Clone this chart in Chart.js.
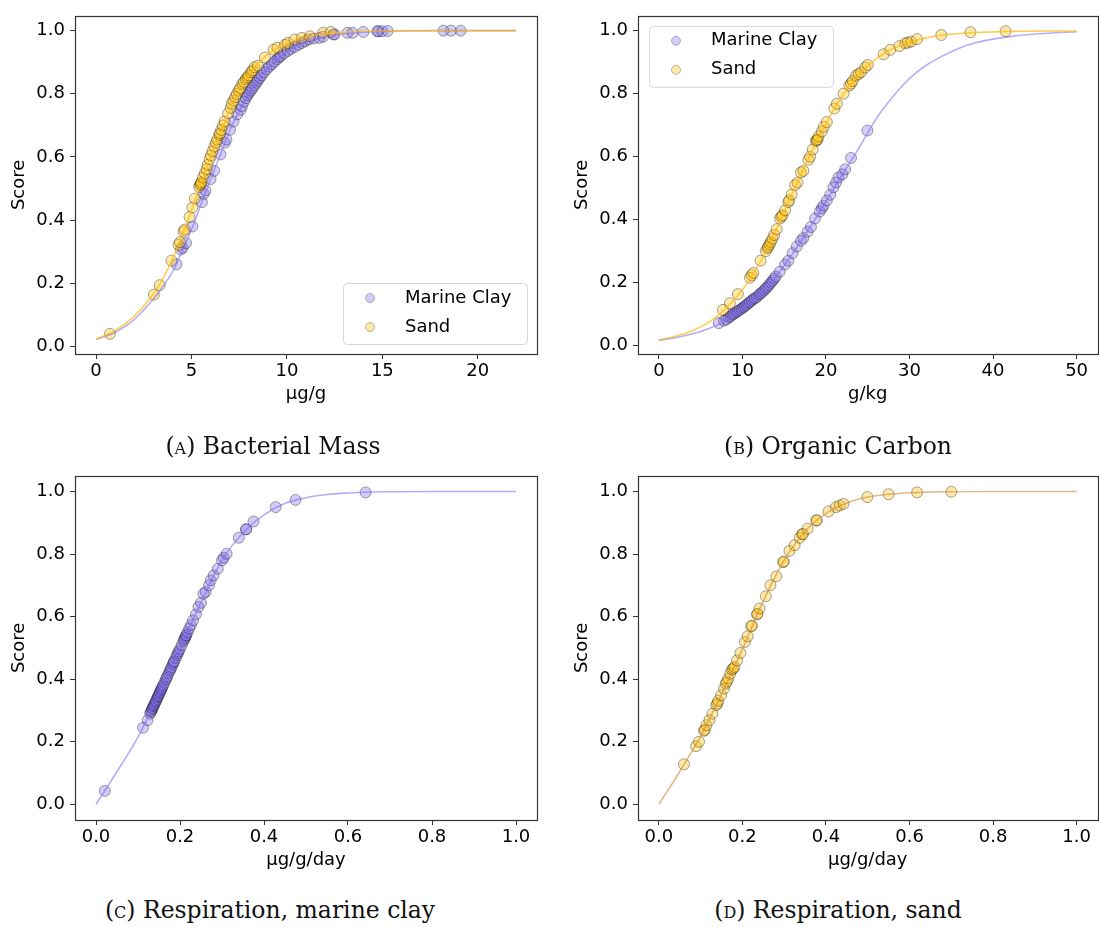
<!DOCTYPE html>
<html>
<head>
<meta charset="utf-8">
<script src="https://cdn.jsdelivr.net/npm/chart.js@4.4.1/dist/chart.umd.min.js"></script>
<style>
  html, body { margin: 0; padding: 0; background: #fff; overflow: hidden; }
  body { width: 1099px; height: 927px; position: relative; }
  .panel { position: absolute; }
  .cap {
    position: absolute; width: 600px; text-align: center;
    font-family: 'DejaVu Serif', serif; font-size: 23.5px; line-height: 30px;
    color: #111; white-space: nowrap;
  }
  .sc { font-variant: small-caps; }
</style>
</head>
<body>
<div class="panel" style="left:0;top:0"><canvas id="chartMass" width="550" height="420"></canvas></div>
<div class="panel" style="left:550px;top:0"><canvas id="chartCarbon" width="554" height="420"></canvas></div>
<div class="panel" style="left:0;top:460px"><canvas id="chartRespClay" width="550" height="420"></canvas></div>
<div class="panel" style="left:550px;top:460px"><canvas id="chartRespSand" width="554" height="420"></canvas></div>

<div class="cap" style="left:-27px;top:431px">(<span class="sc">a</span>) Bacterial Mass</div>
<div class="cap" style="left:538px;top:431px">(<span class="sc">b</span>) Organic Carbon</div>
<div class="cap" style="left:-30px;top:895px">(<span class="sc">c</span>) Respiration, marine clay</div>
<div class="cap" style="left:538px;top:895px">(<span class="sc">d</span>) Respiration, sand</div>

<script>
// ── colours ──
const CLAY = 'rgba(123,104,238,0.33)';
const SAND = 'rgba(255,193,7,0.35)';
const EDGE = 'rgba(0,0,0,0.35)';
const CLAY_LINE = 'rgba(123,104,238,0.55)';
const SAND_LINE = 'rgba(255,185,10,0.7)';
const TAN_LINE = 'rgba(205,140,60,0.6)';
const FONT = "'DejaVu Sans', sans-serif";
const FS = 18;

// ── (A) bacterial mass, µg/g ──
const massClay = [[4.22,0.26],[4.44,0.307],[4.54,0.312],[4.72,0.327],[5.05,0.38],[5.55,0.457],[5.64,0.483],[5.73,0.494],
  [6.0,0.53],[6.19,0.556],[6.52,0.608],[6.74,0.645],[6.83,0.655],[7.02,0.686],[7.2,0.712],[7.4,0.735],[7.57,0.749],
  [7.65,0.76],[7.75,0.775],[7.85,0.786],[7.93,0.795],[8.02,0.803],[8.12,0.81],[8.2,0.818],[8.3,0.826],[8.4,0.835],
  [8.48,0.842],[8.58,0.85],[8.67,0.858],[8.8,0.868],[8.94,0.878],[9.08,0.886],[9.22,0.894],[9.35,0.902],[9.5,0.91],
  [9.6,0.916],[9.68,0.92],[9.85,0.928],[10.05,0.936],[10.2,0.942],[10.4,0.948],[10.6,0.955],[10.78,0.961],[10.95,0.966],
  [11.15,0.972],[11.4,0.975],[11.7,0.977],[11.9,0.981],[12.43,0.988],[12.5,0.988],[13.17,0.993],[13.44,0.993],
  [14.0,0.996],[14.73,0.998],[14.8,0.998],[15.0,0.998],[15.28,0.999],[18.2,1.0],[18.6,1.0],[19.1,1.0]];
const massSand = [[0.73,0.04],[3.03,0.164],[3.34,0.194],[3.95,0.272],[4.32,0.322],[4.4,0.33],[4.59,0.364],[4.65,0.37],
  [4.9,0.41],[5.05,0.44],[5.18,0.468],[5.4,0.505],[5.45,0.512],[5.49,0.515],[5.52,0.52],[5.6,0.535],[5.7,0.548],
  [5.79,0.561],[5.85,0.575],[5.95,0.593],[6.02,0.605],[6.1,0.618],[6.2,0.633],[6.28,0.645],[6.35,0.655],[6.46,0.67],
  [6.5,0.675],[6.56,0.686],[6.65,0.7],[6.74,0.712],[6.92,0.738],[7.05,0.755],[7.11,0.769],[7.2,0.778],[7.29,0.79],
  [7.38,0.8],[7.47,0.81],[7.55,0.818],[7.66,0.832],[7.75,0.838],[7.85,0.847],[7.93,0.852],[8.0,0.858],[8.12,0.868],
  [8.2,0.874],[8.3,0.884],[8.48,0.889],[8.85,0.915],[9.3,0.94],[9.5,0.946],[9.9,0.955],[10.05,0.961],[10.4,0.972],
  [10.78,0.977],[11.2,0.982],[11.9,0.993],[12.3,0.996]];
const massCurveX = [0,1,2,3,3.5,4,4.5,5,5.5,6,6.5,7,7.5,8,8.5,9,10,11,12,13,14,15,16,18,20,22];
const massCurveClay = [0.022,0.045,0.085,0.15,0.19,0.235,0.3,0.37,0.45,0.53,0.605,0.683,0.745,0.8,0.842,0.88,0.933,0.964,0.981,0.99,0.995,0.998,0.999,1,1,1];
const massCurveSand = [0.023,0.05,0.095,0.165,0.215,0.275,0.35,0.43,0.515,0.598,0.672,0.748,0.81,0.86,0.895,0.925,0.96,0.98,0.99,0.995,0.998,0.999,1,1,1,1];
const massTicks = [0,5,10,15,20];

// ── (B) organic carbon, g/kg ──
const carbonClay = [[7.17,0.072],[7.8,0.08],[8.1,0.084],[8.4,0.09],[8.6,0.094],[8.8,0.099],[9.0,0.102],[9.25,0.106],
  [9.45,0.11],[9.67,0.114],[9.9,0.118],[10.1,0.122],[10.3,0.126],[10.5,0.13],[10.7,0.135],[10.9,0.139],[11.1,0.143],
  [11.3,0.148],[11.5,0.151],[11.75,0.155],[12.0,0.162],[12.17,0.166],[12.4,0.171],[12.6,0.176],[12.8,0.182],[13.0,0.187],
  [13.2,0.193],[13.4,0.2],[13.6,0.206],[13.8,0.213],[14.0,0.22],[14.46,0.235],[15.1,0.258],[15.5,0.27],[16.0,0.294],
  [16.5,0.315],[17.0,0.333],[17.3,0.342],[17.8,0.362],[18.2,0.377],[18.7,0.404],[19.25,0.426],[19.5,0.436],[19.7,0.445],
  [20.1,0.461],[20.5,0.479],[20.9,0.503],[21.2,0.518],[21.5,0.534],[21.96,0.544],[22.3,0.56],[23.0,0.596],[24.96,0.683]];
const carbonSand = [[7.67,0.114],[8.5,0.135],[9.46,0.164],[10.9,0.216],[11.1,0.224],[11.3,0.231],[12.17,0.27],[12.8,0.3],
  [13.0,0.31],[13.1,0.315],[13.25,0.322],[13.4,0.33],[13.6,0.34],[13.8,0.352],[14.1,0.37],[14.5,0.404],[14.65,0.41],
  [14.8,0.414],[15.1,0.43],[15.5,0.456],[15.6,0.462],[15.9,0.48],[16.3,0.51],[16.6,0.518],[17.0,0.55],[17.3,0.555],
  [17.9,0.59],[18.1,0.6],[18.4,0.623],[18.8,0.65],[18.9,0.652],[19.0,0.655],[19.1,0.664],[19.5,0.68],[19.75,0.695],
  [20.1,0.71],[21.0,0.753],[21.3,0.768],[22.1,0.8],[22.8,0.826],[23.0,0.832],[23.2,0.84],[23.6,0.857],[23.9,0.862],
  [24.2,0.868],[24.7,0.883],[25.0,0.891],[26.9,0.925],[27.7,0.939],[28.8,0.951],[29.5,0.96],[29.8,0.962],[30.2,0.965],
  [30.9,0.973],[33.8,0.986],[37.3,0.995],[41.5,0.998]];
const carbonCurveX = [0,2,4,6,8,10,12,14,16,18,20,22,24,26,28,30,32,34,36,38,40,42,44,46,48,50];
const carbonCurveClay = [0.018,0.026,0.038,0.055,0.08,0.118,0.162,0.22,0.292,0.372,0.458,0.545,0.63,0.72,0.79,0.848,0.89,0.92,0.945,0.962,0.973,0.981,0.987,0.991,0.994,0.996];
const carbonCurveSand = [0.018,0.03,0.048,0.075,0.118,0.178,0.26,0.365,0.485,0.6,0.705,0.795,0.862,0.91,0.943,0.963,0.977,0.986,0.991,0.994,0.996,0.997,0.998,0.999,0.999,0.999];
const carbonTicks = [0,10,20,30,40,50];

// ── (C) respiration, marine clay, µg/g/day ──
const respClay = [[0.021,0.043],[0.112,0.245],[0.123,0.269],[0.129,0.29],[0.131,0.296],[0.132,0.299],[0.134,0.305],
  [0.135,0.308],[0.137,0.314],[0.138,0.317],[0.14,0.322],[0.142,0.328],[0.143,0.331],[0.145,0.337],[0.147,0.343],
  [0.148,0.346],[0.15,0.351],[0.152,0.357],[0.153,0.36],[0.155,0.366],[0.156,0.369],[0.158,0.375],[0.16,0.381],
  [0.163,0.389],[0.166,0.398],[0.168,0.404],[0.17,0.41],[0.173,0.419],[0.176,0.427],[0.178,0.433],[0.18,0.439],
  [0.183,0.448],[0.185,0.454],[0.186,0.457],[0.19,0.468],[0.193,0.477],[0.195,0.483],[0.197,0.489],[0.2,0.497],
  [0.204,0.509],[0.208,0.521],[0.21,0.527],[0.212,0.532],[0.214,0.538],[0.215,0.541],[0.218,0.55],[0.222,0.562],
  [0.226,0.573],[0.231,0.588],[0.238,0.607],[0.244,0.631],[0.25,0.644],[0.256,0.673],[0.261,0.679],[0.269,0.7],
  [0.273,0.716],[0.28,0.732],[0.29,0.753],[0.3,0.78],[0.304,0.788],[0.311,0.801],[0.34,0.852],[0.357,0.879],
  [0.358,0.879],[0.375,0.904],[0.428,0.95],[0.475,0.973],[0.642,0.997]];
const respCurveX = [0,0.05,0.1,0.15,0.2,0.25,0.3,0.35,0.4,0.45,0.5,0.55,0.6,0.65,0.7,0.8,0.9,1.0];
const respCurveClay = [0,0.105,0.215,0.353,0.497,0.645,0.78,0.868,0.925,0.962,0.98,0.99,0.995,0.998,0.999,1,1,1];

// ── (D) respiration, sand ──
const respSand = [[0.06,0.128],[0.089,0.186],[0.096,0.2],[0.108,0.235],[0.11,0.238],[0.114,0.253],[0.121,0.269],
  [0.128,0.29],[0.1375,0.317],[0.14,0.322],[0.142,0.331],[0.149,0.349],[0.156,0.37],[0.16,0.386],[0.163,0.392],
  [0.166,0.402],[0.171,0.418],[0.175,0.431],[0.178,0.434],[0.181,0.439],[0.187,0.46],[0.195,0.484],[0.206,0.519],
  [0.2125,0.537],[0.221,0.569],[0.223,0.571],[0.235,0.607],[0.236,0.609],[0.241,0.626],[0.256,0.665],[0.267,0.7],
  [0.281,0.729],[0.2975,0.774],[0.299,0.776],[0.3125,0.81],[0.325,0.828],[0.337,0.852],[0.343,0.863],[0.345,0.864],
  [0.356,0.881],[0.377,0.907],[0.378,0.908],[0.406,0.936],[0.424,0.95],[0.433,0.955],[0.442,0.96],[0.499,0.982],
  [0.55,0.991],[0.618,0.997],[0.7,0.999]];
const respCurveSand = [0,0.105,0.218,0.352,0.497,0.65,0.78,0.873,0.93,0.963,0.982,0.991,0.996,0.998,0.999,1,1,1];
const respTicks = [0,0.2,0.4,0.6,0.8,1.0];

const scoreTicks = [0,0.2,0.4,0.6,0.8,1.0];
const LEGEND_LABELS = ['Marine Clay', 'Sand'];

// ═══ HELPERS ═══
function scatterSet(pairs, fill) {
  return {
    type: 'scatter',
    data: pairs.map(p => ({ x: p[0], y: p[1] })),
    backgroundColor: fill, borderColor: EDGE, borderWidth: 1,
    pointRadius: 5.5, pointHoverRadius: 5.5, order: 2
  };
}

function curveSet(xs, ys, color) {
  return {
    type: 'line',
    data: xs.map((x, i) => ({ x: x, y: ys[i] })),
    borderColor: color, borderWidth: 1.6, pointRadius: 0,
    cubicInterpolationMode: 'monotone', fill: false, order: 1
  };
}

// frame around the plot + optional legend box
function framePlugin(legend) {
  return {
    id: 'frame',
    afterDraw(chart) {
      const { ctx, chartArea: a } = chart;
      ctx.save();
      ctx.strokeStyle = '#333';
      ctx.lineWidth = 1.2;
      ctx.strokeRect(Math.round(a.left) + 0.5, Math.round(a.top) + 0.5, Math.round(a.right - a.left), Math.round(a.bottom - a.top));
      if (legend) {
        const w = 184, h = 61;
        const x = legend.corner === 'br' ? a.right - 10 - w : a.left + 11;
        const y = legend.corner === 'br' ? a.bottom - 10 - h : a.top + 10;
        ctx.fillStyle = 'rgba(255,255,255,0.85)';
        ctx.strokeStyle = '#d6d6d6';
        ctx.lineWidth = 1;
        ctx.beginPath();
        ctx.roundRect(x + 0.5, y + 0.5, w, h, 4);
        ctx.fill();
        ctx.stroke();
        [CLAY, SAND].forEach((c, i) => {
          const cy = y + 15 + i * 29;
          ctx.beginPath();
          ctx.arc(x + 27, cy, 4.5, 0, Math.PI * 2);
          ctx.fillStyle = c;
          ctx.fill();
          ctx.strokeStyle = 'rgba(0,0,0,0.25)';
          ctx.stroke();
          ctx.fillStyle = '#000';
          ctx.font = FS + 'px ' + FONT;
          ctx.textBaseline = 'middle';
          ctx.fillText(LEGEND_LABELS[i], x + 62, cy);
        });
      }
      ctx.restore();
    }
  };
}

function makePanel(id, cfg) {
  const canvas = document.getElementById(id);
  const W = canvas.width, H = canvas.height;
  const f = cfg.frame;
  const half = FS * 1.2 / 2;
  new Chart(canvas, {
    type: 'scatter',
    data: { datasets: cfg.datasets },
    options: {
      responsive: false,
      animation: false,
      layout: { padding: { left: 0, top: f.top, right: W - f.right, bottom: 0 } },
      plugins: { legend: { display: false }, tooltip: { enabled: false } },
      scales: {
        x: {
          type: 'linear', min: cfg.xMin, max: cfg.xMax,
          afterBuildTicks: s => { s.ticks = cfg.xTicks.map(v => ({ value: v })); },
          afterFit: s => { s.height = H - f.bottom; },
          border: { display: false },
          grid: { display: true, drawOnChartArea: false, drawTicks: true, tickLength: 5, color: '#333' },
          ticks: { autoSkip: false, maxRotation: 0, padding: 2, color: '#000', font: { family: FONT, size: FS }, callback: cfg.xFmt },
          title: { display: true, text: cfg.xTitle, color: '#000', font: { family: FONT, size: FS }, padding: { top: 0, bottom: cfg.xTitleOff - half } }
        },
        y: {
          type: 'linear', min: cfg.yMin, max: cfg.yMax,
          afterBuildTicks: s => { s.ticks = scoreTicks.map(v => ({ value: v })); },
          afterFit: s => { s.width = f.left; },
          border: { display: false },
          grid: { display: true, drawOnChartArea: false, drawTicks: true, tickLength: 5, color: '#333' },
          ticks: { autoSkip: false, padding: 5, color: '#000', font: { family: FONT, size: FS }, callback: v => v.toFixed(1) },
          title: { display: true, text: 'Score', color: '#000', font: { family: FONT, size: FS }, padding: { top: cfg.yTitleOff - half, bottom: 0 } }
        }
      }
    },
    plugins: [framePlugin(cfg.legend)]
  });
}

// ═══ CHART A ═══
makePanel('chartMass', {
  frame: { left: 75, top: 11, right: 537, bottom: 354 },
  xMin: -1.1, xMax: 23.1, yMin: -0.024, yMax: 1.047,
  xTicks: massTicks, xFmt: v => String(v), xTitle: 'µg/g', xTitleOff: 26, yTitleOff: 19,
  legend: { corner: 'br' },
  datasets: [
    curveSet(massCurveX, massCurveSand, SAND_LINE),
    curveSet(massCurveX, massCurveClay, CLAY_LINE),
    scatterSet(massSand, SAND),
    scatterSet(massClay, CLAY)
  ]
});

// ═══ CHART B ═══
makePanel('chartCarbon', {
  frame: { left: 88, top: 11, right: 550, bottom: 354 },
  xMin: -2.5, xMax: 52.5, yMin: -0.026, yMax: 1.047,
  xTicks: carbonTicks, xFmt: v => String(v), xTitle: 'g/kg', xTitleOff: 26, yTitleOff: 32,
  legend: { corner: 'tl' },
  datasets: [
    curveSet(carbonCurveX, carbonCurveSand, SAND_LINE),
    curveSet(carbonCurveX, carbonCurveClay, CLAY_LINE),
    scatterSet(carbonSand, SAND),
    scatterSet(carbonClay, CLAY)
  ]
});

// ═══ CHART C ═══
makePanel('chartRespClay', {
  frame: { left: 75, top: 15, right: 537, bottom: 360 },
  xMin: -0.05, xMax: 1.05, yMin: -0.05, yMax: 1.05,
  xTicks: respTicks, xFmt: v => v.toFixed(1), xTitle: 'µg/g/day', xTitleOff: 20, yTitleOff: 19,
  datasets: [
    curveSet(respCurveX, respCurveClay, CLAY_LINE),
    scatterSet(respClay, CLAY)
  ]
});

// ═══ CHART D ═══
makePanel('chartRespSand', {
  frame: { left: 88, top: 15, right: 550, bottom: 360 },
  xMin: -0.05, xMax: 1.05, yMin: -0.05, yMax: 1.05,
  xTicks: respTicks, xFmt: v => v.toFixed(1), xTitle: 'µg/g/day', xTitleOff: 20, yTitleOff: 32,
  datasets: [
    curveSet(respCurveX, respCurveSand, TAN_LINE),
    scatterSet(respSand, SAND)
  ]
});
</script>
</body>
</html>
